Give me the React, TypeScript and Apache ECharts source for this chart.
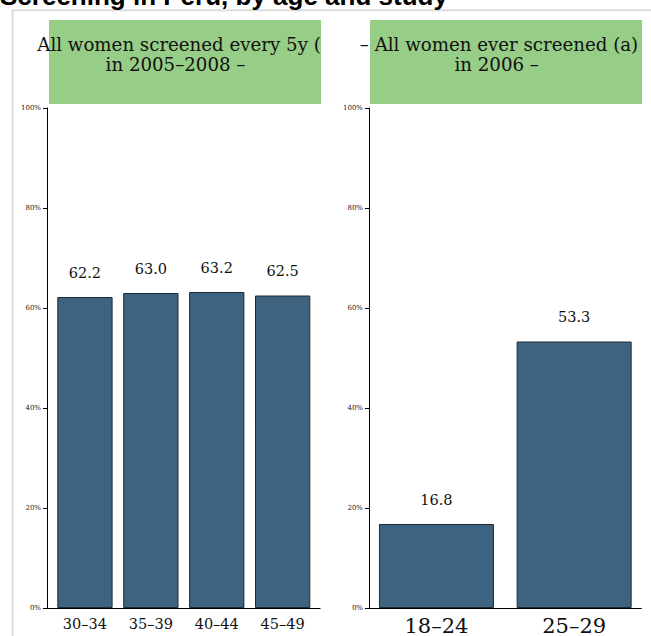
import React, { useEffect, useRef } from "react";
import * as echarts from "echarts";

const chartTitle = "Screening in Peru, by age and study";
const leftTitleLines = ["All women screened every 5y (", "in 2005–2008 –"];
const rightTitleLines = ["– All women ever screened (a)", "in 2006 –"];
const leftCategories = ["30–34", "35–39", "40–44", "45–49"];
const leftValues = [62.2, 63.0, 63.2, 62.5];
const rightCategories = ["18–24", "25–29"];
const rightValues = [16.8, 53.3];
const yMin = 0;
const yMax = 100;
const yStep = 20;

const SERIF = "DejaVu Serif";
const BAR = "#3e6380";
const GREEN = "#96cd87";

export default function App() {
  const ref = useRef<HTMLDivElement>(null);
  useEffect(() => {
    if (!ref.current) return;
    const chart = echarts.init(ref.current, null, { renderer: "svg" });
    const yAxisBase = (offset: number, gridIndex: number) => ({
      type: "value",
      gridIndex,
      min: yMin,
      max: yMax,
      interval: yStep,
      offset,
      splitLine: { show: false },
      axisLine: { show: true, lineStyle: { color: "#000", width: 1 } },
      axisTick: { show: true, length: 4, lineStyle: { color: "#000" } },
      axisLabel: {
        formatter: "{value}%",
        fontFamily: SERIF,
        fontSize: 7,
        color: "#222",
        margin: 6,
      },
    });
    const labelStyle = {
      show: true,
      position: "top",
      distance: 17,
      fontFamily: SERIF,
      fontSize: 14.5,
      color: "#111",
      formatter: (p: any) => Number(p.value).toFixed(1),
    };
    chart.setOption({
      animation: false,
      backgroundColor: "#fff",
      grid: [
        { left: 52, width: 263.6, top: 108, height: 500 },
        { left: 367.6, width: 275.4, top: 108, height: 500 },
      ],
      xAxis: [
        {
          type: "category",
          gridIndex: 0,
          data: leftCategories,
          axisLine: { show: false },
          axisTick: { show: false },
          axisLabel: { fontFamily: SERIF, fontSize: 14.5, color: "#111", margin: 8 },
        },
        {
          type: "category",
          gridIndex: 1,
          data: rightCategories,
          axisLine: { show: false },
          axisTick: { show: false },
          axisLabel: { fontFamily: SERIF, fontSize: 21, color: "#111", margin: 7 },
        },
      ],
      yAxis: [yAxisBase(5, 0), yAxisBase(-1.4, 1)],
      series: [
        {
          type: "bar",
          xAxisIndex: 0,
          yAxisIndex: 0,
          data: leftValues,
          barWidth: 55.3,
          itemStyle: { color: BAR, borderColor: "#1e2a33", borderWidth: 1 },
          label: labelStyle,
        },
        {
          type: "bar",
          xAxisIndex: 1,
          yAxisIndex: 1,
          data: rightValues,
          barWidth: 115,
          itemStyle: { color: BAR, borderColor: "#1e2a33", borderWidth: 1 },
          label: labelStyle,
        },
      ],
      graphic: [
        {
          type: "rect",
          silent: true,
          shape: { x: 12.5, y: 10.3, width: 1000, height: 1000 },
          style: { fill: "none", stroke: "#dcdcdc", lineWidth: 2 },
        },
        {
          type: "text",
          x: 0,
          y: -4,
          style: {
            text: chartTitle,
            fontFamily: "Liberation Sans",
            fontWeight: "bold",
            fontSize: 26,
            fill: "#000",
            verticalAlign: "middle",
          },
        },
        { type: "rect", shape: { x: 49, y: 20, width: 272, height: 84 }, style: { fill: GREEN } },
        { type: "rect", shape: { x: 370, y: 20, width: 272, height: 84 }, style: { fill: GREEN } },
        {
          type: "text",
          x: 37.3,
          y: 44,
          style: { text: leftTitleLines[0], fontFamily: SERIF, fontSize: 18.2, fill: "#111", align: "left", verticalAlign: "middle" },
        },
        {
          type: "text",
          x: 175.5,
          y: 64.5,
          style: { text: leftTitleLines[1], fontFamily: SERIF, fontSize: 18.2, fill: "#111", align: "center", verticalAlign: "middle" },
        },
        {
          type: "text",
          x: 499,
          y: 44,
          style: { text: rightTitleLines[0], fontFamily: SERIF, fontSize: 18.2, fill: "#111", align: "center", verticalAlign: "middle" },
        },
        {
          type: "text",
          x: 496.7,
          y: 64.5,
          style: { text: rightTitleLines[1], fontFamily: SERIF, fontSize: 18.2, fill: "#111", align: "center", verticalAlign: "middle" },
        },
        { type: "line", shape: { x1: 47, y1: 608.5, x2: 320.5, y2: 608.5 }, style: { stroke: "#000", lineWidth: 1 } },
        { type: "line", shape: { x1: 369, y1: 608.5, x2: 641.7, y2: 608.5 }, style: { stroke: "#000", lineWidth: 1 } },
      ],
    });
    return () => chart.dispose();
  }, []);
  return (
    <div
      ref={ref}
      style={{ position: "absolute", left: 0, top: 0, width: 651, height: 636 }}
    />
  );
}
